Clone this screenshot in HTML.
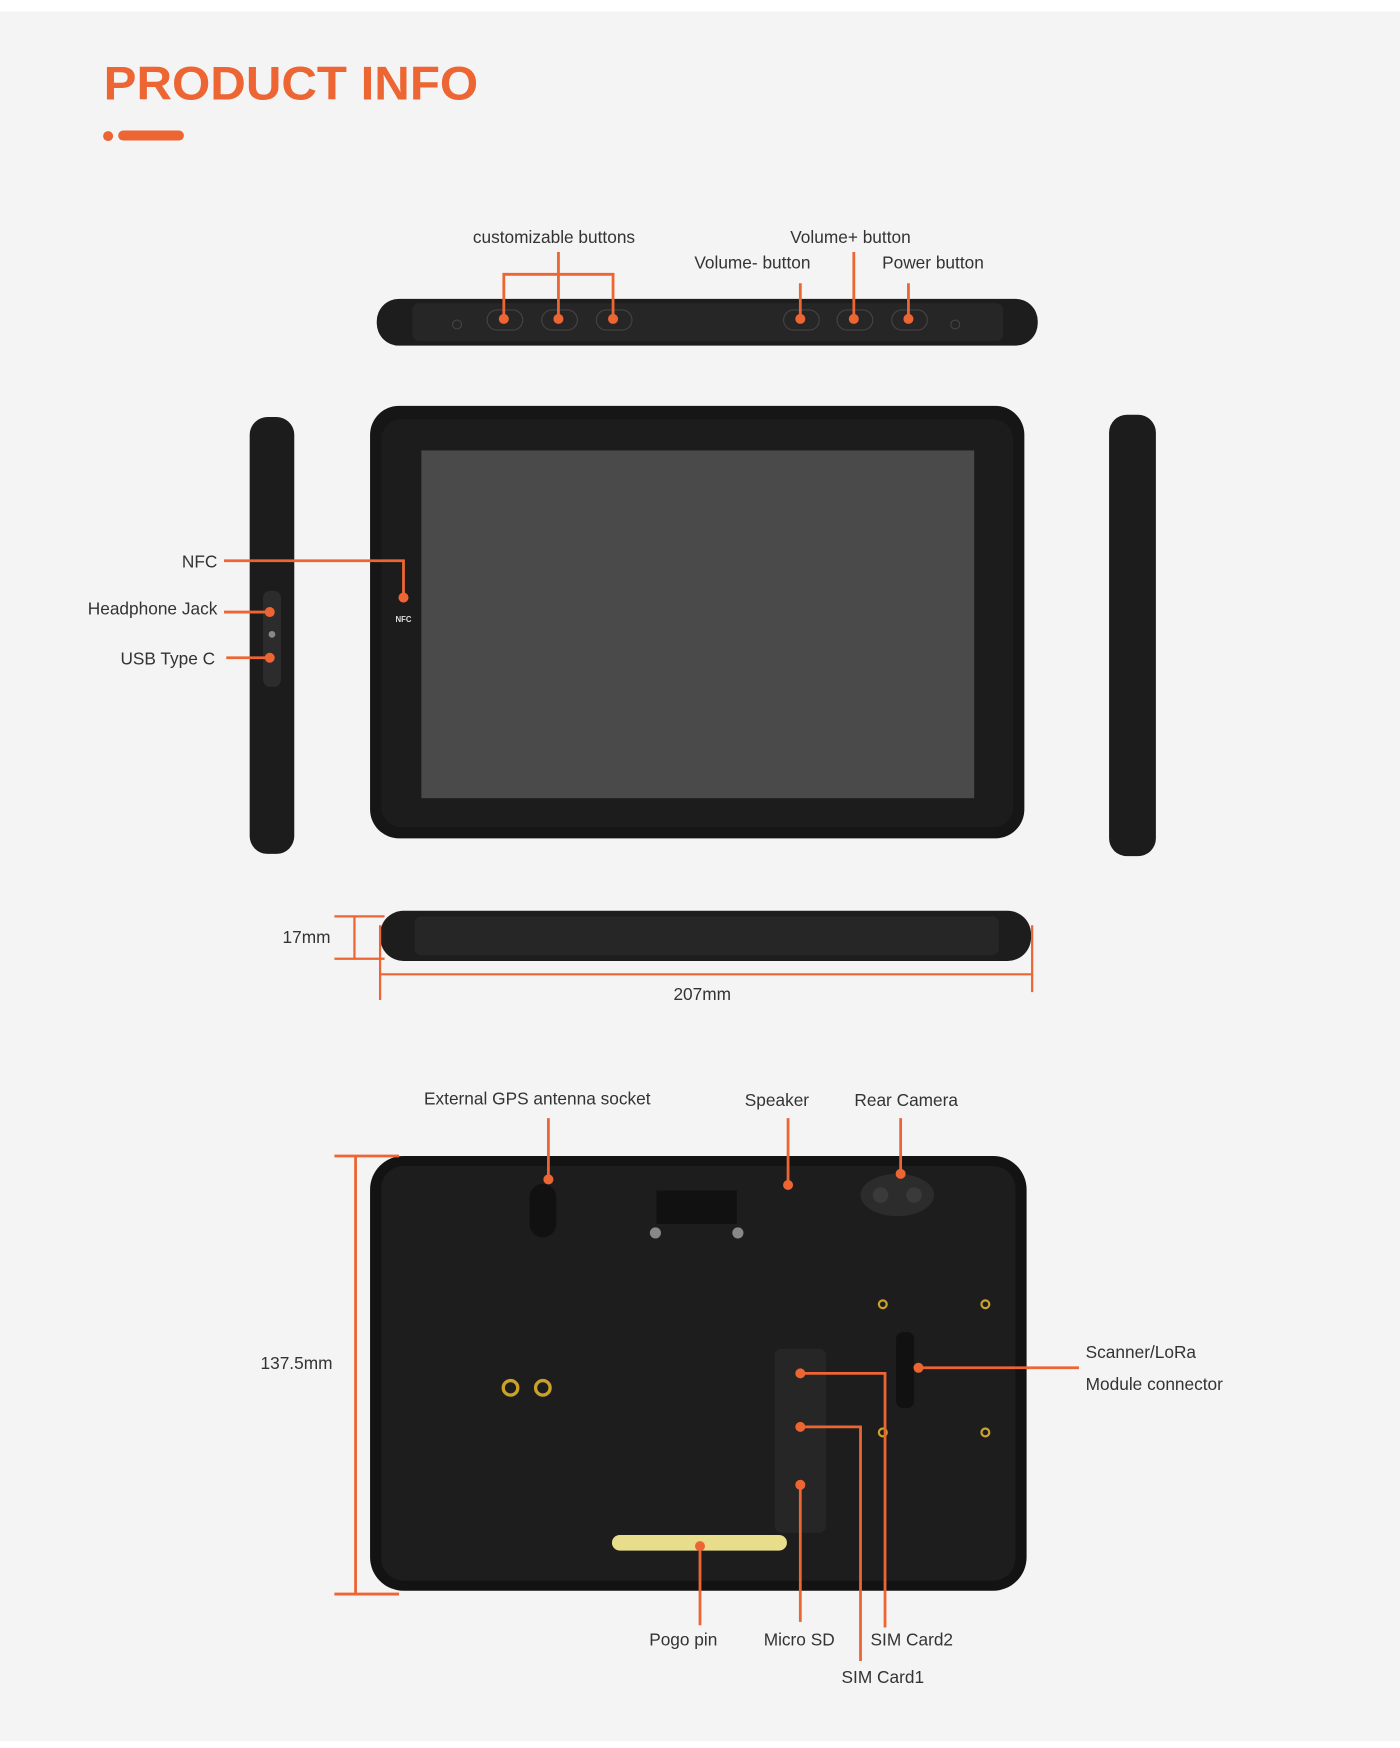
<!DOCTYPE html>
<html><head><meta charset="utf-8"><style>
html,body{margin:0;padding:0;background:#fff}
svg{display:block}
text{font-family:"Liberation Sans",sans-serif;fill:#333;font-size:15.5px}
</style></head><body>
<svg width="1400" height="1748" viewBox="0 0 1256 1568" xmlns="http://www.w3.org/2000/svg">
<rect x="0" y="0" width="1256" height="1568" fill="#fff"/>
<rect x="0" y="10" width="1256" height="1552" fill="#f4f4f4"/>
<text x="93" y="89" textLength="336" lengthAdjust="spacingAndGlyphs" style="font-size:42px;font-weight:bold;fill:#ec6532">PRODUCT INFO</text>
<circle cx="97" cy="122" r="4.5" fill="#ec6532"/>
<rect x="106" y="117" width="59" height="9" rx="4.5" fill="#ec6532"/>

<!-- top view -->
<rect x="338" y="268" width="593" height="42" rx="20" fill="#1d1d1d"/>
<rect x="370" y="272" width="530" height="34" rx="6" fill="#262626"/>
<g fill="none" stroke="#444" stroke-width="1">
<rect x="437" y="278" width="32" height="18" rx="9"/><rect x="486" y="278" width="32" height="18" rx="9"/><rect x="535" y="278" width="32" height="18" rx="9"/>
<rect x="703" y="278" width="32" height="18" rx="9"/><rect x="751" y="278" width="32" height="18" rx="9"/><rect x="800" y="278" width="32" height="18" rx="9"/>
<circle cx="410" cy="291" r="4"/><circle cx="857" cy="291" r="4"/></g>
<g stroke="#ec6532" stroke-width="2.5" fill="none">
<path d="M452 286V246H550V286M501 286V226"/>
<path d="M718 286V254M766 286V226M815 286V254"/></g>
<g fill="#ec6532"><circle cx="452" cy="286" r="4.5"/><circle cx="501" cy="286" r="4.5"/><circle cx="550" cy="286" r="4.5"/><circle cx="718" cy="286" r="4.5"/><circle cx="766" cy="286" r="4.5"/><circle cx="815" cy="286" r="4.5"/></g>
<text x="497" y="218" text-anchor="middle">customizable buttons</text>
<text x="763" y="218" text-anchor="middle">Volume+ button</text>
<text x="675" y="241" text-anchor="middle">Volume- button</text>
<text x="837" y="241" text-anchor="middle">Power button</text>

<!-- front -->
<rect x="332" y="364" width="587" height="388" rx="26" fill="#161616"/>
<rect x="342" y="376" width="567" height="366" rx="18" fill="#1c1c1c"/>
<rect x="378" y="404" width="496" height="312" fill="#4a4a4a"/>
<rect x="224" y="374" width="40" height="392" rx="16" fill="#1c1c1c"/>
<rect x="236" y="530" width="16" height="86" rx="6" fill="#2c2c2c"/>
<circle cx="244" cy="569" r="3" fill="#888"/>
<rect x="995" y="372" width="42" height="396" rx="16" fill="#1c1c1c"/>
<text x="362" y="558" text-anchor="middle" style="font-size:7px;fill:#ddd;font-weight:bold">NFC</text>
<g stroke="#ec6532" stroke-width="2.5" fill="none"><path d="M201 503H362V536"/><path d="M201 549H242M203 590H242"/></g>
<g fill="#ec6532"><circle cx="362" cy="536" r="4.5"/><circle cx="242" cy="549" r="4.5"/><circle cx="242" cy="590" r="4.5"/></g>
<text x="195" y="509" text-anchor="end">NFC</text>
<text x="195" y="551" text-anchor="end">Headphone Jack</text>
<text x="193" y="596" text-anchor="end">USB Type C</text>

<!-- bottom view -->
<rect x="341" y="817" width="584" height="45" rx="21" fill="#1d1d1d"/>
<rect x="372" y="822" width="524" height="35" rx="6" fill="#262626"/>
<g stroke="#ec6532" stroke-width="2" fill="none">
<path d="M300 822H345M300 860H345M318 822V860"/>
<path d="M341 830V897M926 830V890M341 874H926"/></g>
<text x="275" y="846" text-anchor="middle">17mm</text>
<text x="630" y="897" text-anchor="middle">207mm</text>

<!-- back -->
<rect x="332" y="1037" width="589" height="390" rx="30" fill="#131313"/>
<rect x="342" y="1046" width="569" height="372" rx="20" fill="#1d1d1d"/>
<rect x="475" y="1062" width="24" height="48" rx="12" fill="#111"/>
<rect x="589" y="1068" width="72" height="30" fill="#111"/>
<circle cx="588" cy="1106" r="5" fill="#888"/><circle cx="662" cy="1106" r="5" fill="#888"/>
<ellipse cx="805" cy="1072" rx="33" ry="19" fill="#2c2c2c"/>
<circle cx="790" cy="1072" r="7" fill="#3a3a3a"/><circle cx="820" cy="1072" r="7" fill="#3a3a3a"/>
<rect x="695" y="1210" width="46" height="165" rx="6" fill="#262626"/>
<rect x="804" y="1195" width="16" height="68" rx="6" fill="#111"/>
<g fill="none" stroke="#c9a227" stroke-width="3"><circle cx="458" cy="1245" r="6.5"/><circle cx="487" cy="1245" r="6.5"/></g>
<g fill="none" stroke="#c9a227" stroke-width="2"><circle cx="792" cy="1170" r="3.5"/><circle cx="884" cy="1170" r="3.5"/><circle cx="792" cy="1285" r="3.5"/><circle cx="884" cy="1285" r="3.5"/></g>
<rect x="549" y="1377" width="157" height="14" rx="7" fill="#e8dd8a"/>
<g stroke="#ec6532" stroke-width="2.5" fill="none">
<path d="M300 1037H358M300 1430H358M319 1037V1430"/>
<path d="M492 1003V1058M707 1003V1063M808 1003V1053"/>
<path d="M824 1227H968"/>
<path d="M718 1232H794V1460M718 1280H772V1490M718 1332V1455M628 1387V1458"/></g>
<g fill="#ec6532"><circle cx="492" cy="1058" r="4.5"/><circle cx="707" cy="1063" r="4.5"/><circle cx="808" cy="1053" r="4.5"/><circle cx="824" cy="1227" r="4.5"/><circle cx="718" cy="1232" r="4.5"/><circle cx="718" cy="1280" r="4.5"/><circle cx="718" cy="1332" r="4.5"/><circle cx="628" cy="1387" r="4.5"/></g>
<text x="266" y="1228" text-anchor="middle">137.5mm</text>
<text x="482" y="991" text-anchor="middle">External GPS antenna socket</text>
<text x="697" y="992" text-anchor="middle">Speaker</text>
<text x="813" y="992" text-anchor="middle">Rear Camera</text>
<text x="974" y="1218">Scanner/LoRa</text>
<text x="974" y="1247">Module connector</text>
<text x="613" y="1476" text-anchor="middle">Pogo pin</text>
<text x="717" y="1476" text-anchor="middle">Micro SD</text>
<text x="818" y="1476" text-anchor="middle">SIM Card2</text>
<text x="792" y="1510" text-anchor="middle">SIM Card1</text>
</svg>
</body></html>
